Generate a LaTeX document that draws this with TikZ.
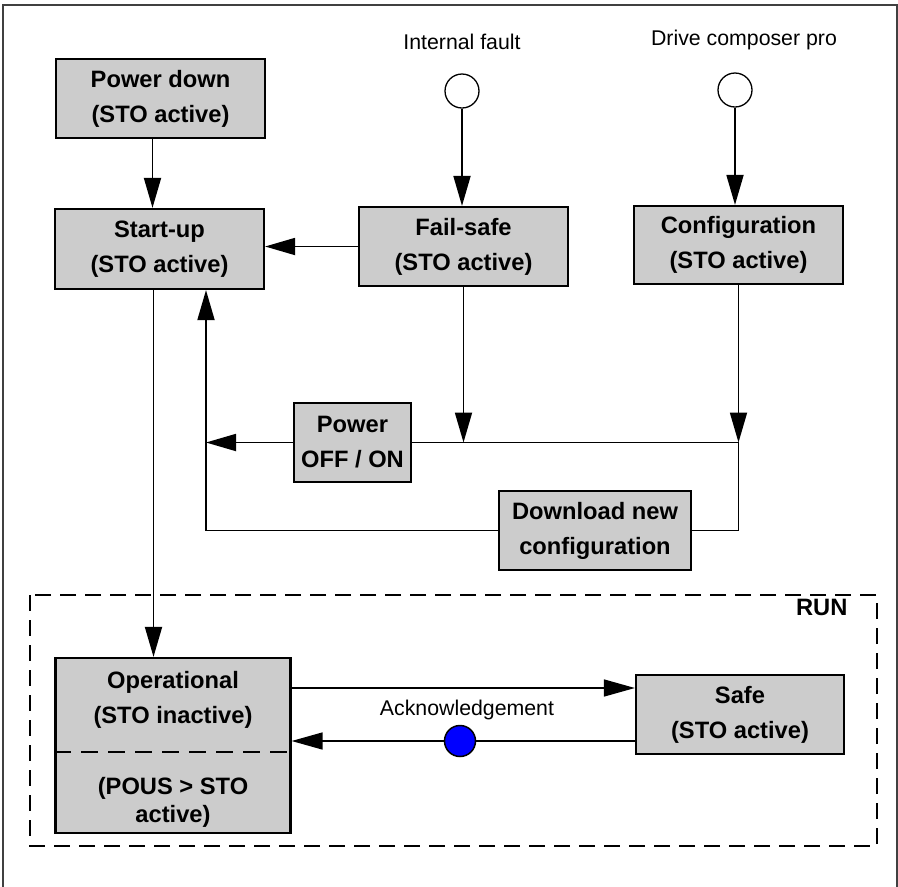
\documentclass[tikz,border=0pt]{standalone}
\usepackage{fontspec}
\setmainfont{Liberation Sans}
\usepackage{tikz}
\usetikzlibrary{arrows.meta}
\definecolor{boxgray}{rgb}{0.8,0.8,0.8}
\definecolor{ackblue}{rgb}{0,0,1}

\begin{document}
\begin{tikzpicture}[line cap=butt,line join=miter,x=1pt,y=-1pt,
    state/.style={draw,line width=2.2pt,fill=boxgray,align=center,inner sep=0pt,
      font=\bfseries\fontsize{23.7}{35}\selectfont},
    src/.style={circle,draw,line width=1.3pt,fill=white,minimum size=34pt,inner sep=0pt},
    lbl/.style={font=\fontsize{21.3}{25}\selectfont},
    flow/.style={line width=1.8pt,-{Triangle[length=30pt,width=17pt]}},
    thinflow/.style={line width=1.5pt,-{Triangle[length=31pt,width=17pt]}}]
	\useasboundingbox (0,0) rectangle (898,887);
	\draw [line width=1.2pt,color=black!75] (3,887) -- (3,5) -- (897,5) -- (897,887);
	% states
	\node [state,minimum width=209pt,minimum height=79pt] (pdown) at (160.5,98.5) {Power down\\(STO active)};
	\node [state,minimum width=209pt,minimum height=80pt] (start) at (159.5,249) {Start-up\\(STO active)};
	\node [state,minimum width=209pt,minimum height=79pt] (fail) at (463.5,246.5) {Fail-safe\\(STO active)};
	\node [state,minimum width=209pt,minimum height=78pt] (conf) at (738.5,245) {Configuration\\(STO active)};
	\node [state,minimum width=117pt,minimum height=79pt] (power) at (352.5,442.5) {Power\\OFF / ON};
	\node [state,minimum width=192pt,minimum height=79pt] (dload) at (595,530.5) {Download new\\configuration};
	% sources
	\node [src] (fault) at (462,91) {};
	\node [src] (dcp) at (735,90) {};
	\node [lbl] (faultlbl) at (462,42) {Internal fault};
	\node [lbl] (dcplbl) at (744,40) {Drive composer pro};
	% RUN area
	\draw [line width=1.2pt,dash pattern=on 16pt off 9pt] (30,595) rectangle (877,846);
	\node [anchor=east,font=\bfseries\fontsize{23.7}{28}\selectfont] (runlbl) at (851,607) {RUN};
	\node [state,minimum width=235pt,minimum height=175pt] (op) at (173,745.5) {};
	\draw [line width=2.2pt,dash pattern=on 17pt off 10pt] (op.west |- 0,752) -- (op.east |- 0,752);
	\node [align=center,font=\bfseries\fontsize{23.7}{35}\selectfont] (optxt) at (173,699.5) {Operational\\(STO inactive)};
	\node [align=center,font=\bfseries\fontsize{23.7}{28}\selectfont] (poustxt) at (173,802) {(POUS > STO\\active)};
	\node [state,minimum width=208pt,minimum height=79pt] (safe) at (740,714.5) {Safe\\(STO active)};
	\node [circle,draw,line width=1.5pt,fill=ackblue,minimum size=31pt,inner sep=0pt] (ack) at (460,741) {};
	\node [lbl] (acklbl) at (467,710) {Acknowledgement};
	% connectors
	\coordinate (ret) at (206,530.5);
	\coordinate (j1) at (fail.south |- power.east);
	\coordinate (j2) at (conf.south |- power.east);
	\coordinate (s1) at ([yshift=26.5pt]safe.west);
	\coordinate (s2) at ([yshift=-26.5pt]safe.west);
	\draw [flow] ([xshift=-8pt]pdown.south) -- ([xshift=-8pt]pdown.south |- start.north);
	\draw [flow] (fault) -- (fault |- fail.north);
	\draw [flow] (dcp) -- (dcp |- conf.north);
	\draw [flow] (fail.west) -- (fail.west -| start.east);
	\draw [line width=1.8pt] (j2) -- (power.east);
	\draw [line width=1.8pt] (dload.east) -- (dload.east -| conf.south) -- (j2);
	\draw [flow] (fail.south) -- (j1);
	\draw [flow] (conf.south) -- (j2);
	\draw [flow] (power.west) -- (power.west -| ret);
	\draw [flow] (dload.west) -- (ret) -- (ret |- start.south);
	\draw [flow] ([xshift=-6pt]start.south) -- ([xshift=-6pt]start.south |- op.north);
	\draw [thinflow] (op.east |- s1) -- (s1);
	\draw [line width=1.5pt] (s2) -- (ack);
	\draw [thinflow] (ack) -- (op.east |- s2);
\end{tikzpicture}
\end{document}
